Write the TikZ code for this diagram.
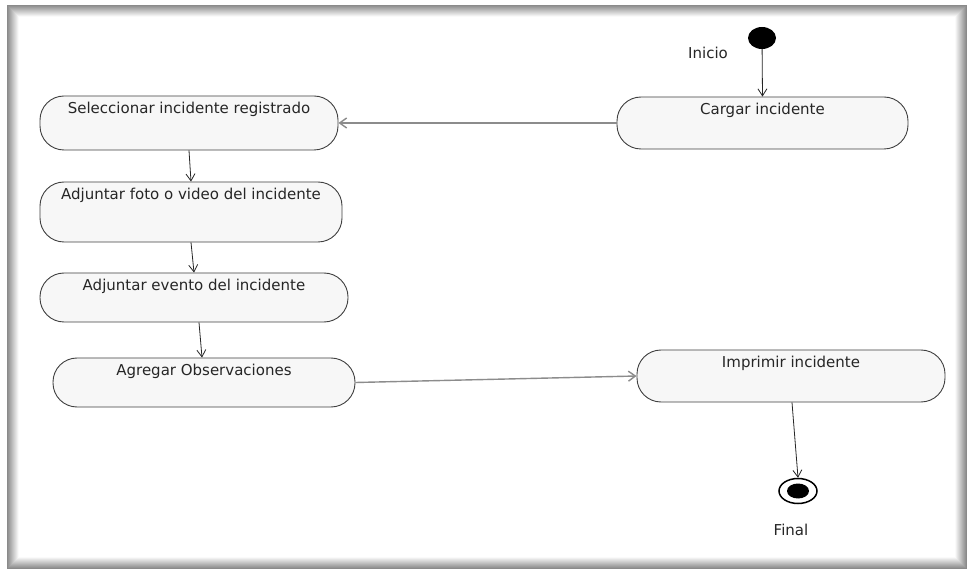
\documentclass[tikz,border=0pt]{standalone}
\usepackage{fontspec}
\setmainfont{DejaVu Sans}
\usetikzlibrary{arrows.meta,shapes.geometric}
\begin{document}
\begin{tikzpicture}[x=1pt,y=-1pt,
  act/.style={draw=black!75, line width=0.9pt, fill=black!3, rounded corners=24pt,
    inner xsep=0pt, inner ysep=4.5pt, text height=13pt,
    font=\fontsize{15}{18}\selectfont, text=black!85},
  flow/.style={draw=black!85, line width=0.8pt, -{Straight Barb[length=7pt,width=9pt]}},
  hflow/.style={draw=black!45, line width=1.4pt, -{Straight Barb[length=7pt,width=10pt]}},
  lbl/.style={font=\fontsize{15}{18}\selectfont, text=black!85, inner sep=0pt}]

\useasboundingbox (0,0) rectangle (967,569);

% page frame with an inner shadow
\fill[white] (0,0) rectangle (967,569);
\foreach \i in {0,...,11} {
  \pgfmathtruncatemacro\g{max(46-4*\i,0)}
  \fill[black!\g] (7+\i,5+\i) rectangle (967-\i,569-\i);
}
\fill[white] (19,17) rectangle (955,557);

% activities
\node[act, minimum width=298pt, text depth=32pt] (sel) at (189,123) {Seleccionar incidente registrado};
\node[act, minimum width=302pt, text depth=38pt] (foto) at (191,212) {Adjuntar foto o video del incidente};
\node[act, minimum width=308pt, text depth=27pt] (evento) at (194,297.5) {Adjuntar evento del incidente};
\node[act, minimum width=302pt, text depth=27pt] (obs) at (204,382.5) {Agregar Observaciones};
\node[act, minimum width=291pt, text depth=30pt] (cargar) at (762.5,123) {Cargar incidente};
\node[act, minimum width=308pt, text depth=30pt] (imp) at (791,376) {Imprimir incidente};

% initial and final states
\node[ellipse, fill=black, minimum width=28pt, minimum height=22pt, inner sep=0pt] (inicio) at (762,38) {};
\node[lbl] (tinicio) at (708,53) {Inicio};
\node[ellipse, draw=black, line width=1.5pt, fill=white, minimum width=38pt, minimum height=25pt, inner sep=0pt] (fin) at (798,491) {};
\node[ellipse, fill=black, minimum width=22pt, minimum height=15pt, inner sep=0pt] (finin) at (fin.center) {};
\node[lbl] (tfinal) at (791,530) {Final};

% transitions
\draw[flow] (inicio) -- (cargar.north);
\draw[hflow] (cargar.west) -- (sel.east);
\draw[flow] (sel.south) -- (foto.north);
\draw[flow] (foto.south) -- (evento.north);
\draw[flow] ([xshift=5pt]evento.south) -- ([xshift=-2pt]obs.north);
\draw[hflow] (obs.east) -- (imp.west);
\draw[flow] ([xshift=1pt]imp.south) -- (fin.north);
\end{tikzpicture}
\end{document}
